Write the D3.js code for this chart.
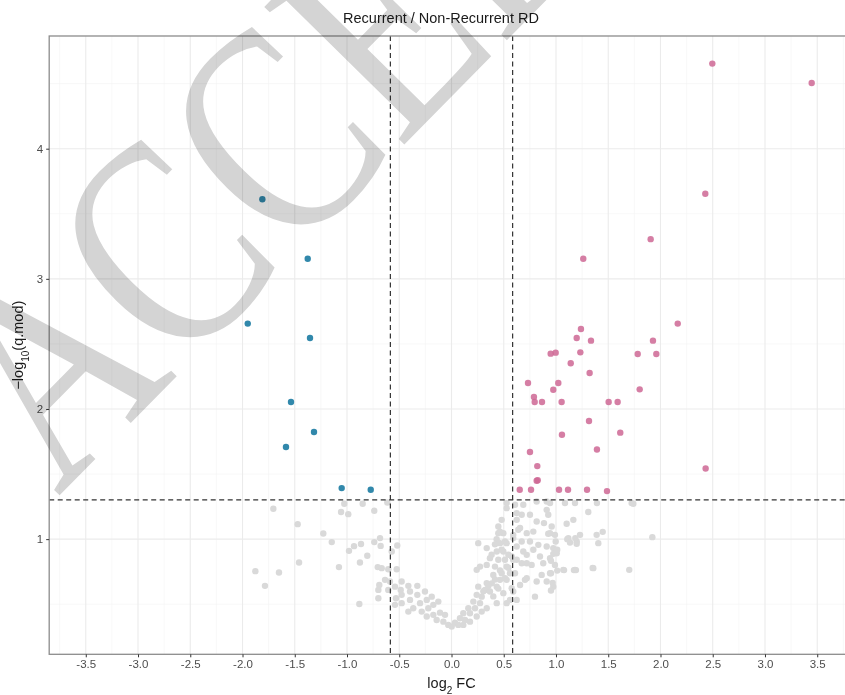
<!DOCTYPE html>
<html>
<head>
<meta charset="utf-8">
<script src="https://cdn.jsdelivr.net/npm/d3@7"></script>
<style>
  body { margin: 0; background: #fff; }
  svg text { font-family: "Liberation Sans", Arial, Helvetica, sans-serif; }
</style>
</head>
<body>
<svg id="chart" width="845" height="695"></svg>
<script>
// ---- data (log2 FC, -log10 q) ----
const title = "Recurrent / Non-Recurrent RD";
const xTicks = [-3.5, -3, -2.5, -2, -1.5, -1, -0.5, 0, 0.5, 1, 1.5, 2, 2.5, 3, 3.5];
const yTicks = [1, 2, 3, 4];
const fcCut = 0.585;   // log2(1.5)
const qCut = 1.301;    // -log10(0.05)

// down-regulated (significant)
const downFC = [-1.810, -1.376, -1.950, -1.354, -1.536, -1.316, -1.584, -1.051, -0.773];
const downQ  = [3.612, 3.154, 2.656, 2.545, 2.054, 1.823, 1.708, 1.392, 1.379];

// up-regulated (significant)
const upFC = [1.261, 2.165, 1.239, 1.198, 1.335, 1.928, 0.949, 0.997, 1.233, 1.782, 1.960, 1.141, 1.322, 0.732,
  1.022, 0.974, 1.801, 0.789, 0.796, 0.866, 1.054, 1.504, 1.590, 1.316, 1.057, 1.615, 0.751, 1.392, 0.821, 2.432,
  0.815, 0.825, 0.653, 0.761, 1.029, 1.115, 1.297, 1.488, 2.496, 3.447, 2.429, 1.906];
const upQ = [3.154, 2.656, 2.615, 2.546, 2.525, 2.525, 2.425, 2.433, 2.435, 2.423, 2.423, 2.351, 2.277, 2.200,
  2.200, 2.148, 2.151, 2.092, 2.054, 2.054, 2.054, 2.054, 2.054, 1.908, 1.802, 1.818, 1.669, 1.689, 1.561, 1.543,
  1.448, 1.452, 1.379, 1.379, 1.379, 1.379, 1.379, 1.369, 4.654, 4.505, 3.654, 3.305];

// not significant
const nsFC = [-1.705, -1.472, -1.459, -1.877, -1.651, -1.785,
  -1.026, -0.850, -0.614, -1.057, -0.988, -0.739, -1.146, -1.227, -0.981, -0.933, -0.866, -0.739, -0.684, -0.678,
  -0.519, -0.572, -0.806, -0.876, -1.077, -0.706, -0.668, -0.605, -0.524, -0.636, -0.589, -0.691, -0.700, -0.605,
  -0.700, -0.882, -0.541, -0.477, -0.486, -0.413, -0.397, -0.327, -0.531, -0.477, -0.541, -0.477, -0.397, -0.327,
  -0.254, -0.366, -0.413, -0.301, -0.237, -0.189, -0.285, -0.222, -0.174, -0.126, -0.237, -0.174, -0.110, -0.142,
  -0.078, -0.031, 0.002, -0.062, 0.033, 0.081, 0.065, 0.129, 0.113, 0.177, 0.161, 0.225, 0.209, 0.273, 0.241,
  0.289, 0.321, 0.256, 0.337, 0.241, 0.273, 0.337, 0.400, 0.368, 0.433, 0.464, 0.416, 0.448, 0.433, 0.496, 0.464,
  0.512, 0.448, 0.496, 0.448, 0.480, 0.528, 0.256, 0.337, 0.368, 0.528, 0.560, 0.528, 0.496, 0.576, 0.576, 0.624,
  0.624, 0.591, 0.639, 0.624, 0.672, 0.687, 0.608, 0.528, 0.672, 0.687, 0.720, 0.703, 0.560, 0.433, 0.337, 0.289,
  0.241, 0.177, 0.113,
  0.815, 0.911, 1.086, 1.182, 0.911, 0.926, 0.751, 0.624, 0.815, 0.885, 0.959, 1.102, 1.166, 1.230, 1.118, 1.198,
  1.389, 1.405, 0.656, 0.720, 0.783, 0.926, 0.990, 0.591, 0.751, 0.831, 0.911, 0.974, 1.007, 0.783, 0.720, 0.847,
  0.943, 0.591, 0.672, 0.767, 0.878, 0.990, 1.070, 1.182, 1.357, 0.943, 0.863, 0.608, 0.720, 0.815, 0.911, 0.974,
  0.656, 0.591, 0.799, 0.624, 0.528, 0.480, 0.512, 0.480, 0.528, 0.464,
  0.943, 1.392, 1.724, 1.740, 1.309, 0.943, 1.447, 1.922, 1.108, 1.185, 1.134, 1.198, 0.997, 1.012, 0.974, 0.952,
  1.012, 1.077, 1.172, 1.191, 1.351, 1.701, 0.952, 0.968, 0.952,
  0.385, 0.416, 0.464, 0.512, 0.544, 0.305, 0.352, 0.400, 0.448, 0.544, 0.384, 0.432, 0.416];
const nsQ = [1.233, 1.115, 0.820, 0.754, 0.743, 0.641,
  1.272, 1.272, 1.282, 1.208, 1.192, 1.218, 0.977, 1.043, 0.910, 0.946, 0.962, 0.977, 1.008, 0.948,
  0.951, 0.905, 0.872, 0.820, 0.785, 0.785, 0.777, 0.769, 0.769, 0.687, 0.674, 0.648, 0.610, 0.610,
  0.546, 0.502, 0.635, 0.674, 0.610, 0.641, 0.597, 0.641, 0.546, 0.572, 0.495, 0.508, 0.533, 0.572,
  0.597, 0.469, 0.443, 0.508, 0.533, 0.558, 0.443, 0.469, 0.495, 0.520, 0.405, 0.418, 0.435, 0.379,
  0.366, 0.341, 0.328, 0.418, 0.358, 0.392, 0.341, 0.379, 0.431, 0.431, 0.469, 0.469, 0.520, 0.508, 0.572,
  0.558, 0.610, 0.635, 0.662, 0.764, 0.789, 0.802, 0.725, 0.597, 0.635, 0.687, 0.789, 0.841, 0.905, 0.905, 0.969,
  0.982, 1.046, 1.046, 1.097, 1.148, 1.238, 0.969, 0.931, 0.854, 0.789, 0.738, 0.687, 0.585, 0.623, 0.866, 0.841,
  0.943, 1.033, 1.072, 1.148, 1.187, 1.264, 1.264, 1.277, 0.982, 0.905, 0.815, 0.687, 0.533, 0.508, 0.469, 0.443,
  0.405, 0.366, 0.341,
  1.289, 1.289, 1.277, 1.277, 1.225, 1.187, 1.187, 1.200, 1.135, 1.123, 1.097, 1.118, 1.148, 1.033, 1.008, 0.982,
  1.033, 0.969, 1.085, 1.046, 1.058, 1.041, 1.033, 1.008, 0.982, 0.956, 0.943, 0.931, 0.892, 0.918, 0.879, 0.866,
  0.854, 0.841, 0.815, 0.802, 0.815, 0.802, 0.764, 0.764, 0.777, 0.738, 0.725, 0.738, 0.700, 0.674, 0.674, 0.635,
  0.648, 0.597, 0.558, 0.533, 0.508, 0.738, 0.841, 0.918, 0.969, 1.058,
  1.277, 1.277, 1.277, 1.272, 1.208, 1.046, 1.056, 1.015, 1.000, 1.008, 0.974, 0.964, 0.982, 0.918, 0.887, 0.833,
  0.758, 0.762, 0.762, 0.762, 0.779, 0.764, 0.738, 0.664, 0.605,
  0.660, 0.690, 0.760, 0.700, 0.880, 0.600, 0.640, 0.560, 0.620, 0.780, 0.880, 1.000, 0.960];

const groups = [
  { name: "ns", fc: nsFC, q: nsQ, color: "#d9d9d9", opacity: 1 },
  { name: "down", fc: downFC, q: downQ, color: "#0d739c", opacity: 0.85 },
  { name: "up", fc: upFC, q: upQ, color: "#ce6794", opacity: 0.85 }
];

// ---- layout ----
const svg = d3.select("#chart");
const panel = { left: 49.2, right: 853.8, top: 36, bottom: 654.3 };

const x = d3.scaleLinear().domain([-3.85, 3.85]).range([panel.left, panel.right]);
const y = d3.scaleLinear().domain([0.115, 4.866]).range([panel.bottom, panel.top]);

// grid
const grid = svg.append("g");
const xMinor = xTicks.slice(0, -1).map(d => d + 0.25).concat([-3.75, 3.75]);
const yMinor = [0.5, 1.5, 2.5, 3.5, 4.5];

grid.selectAll(".xminor").data(xMinor).enter().append("line")
  .attr("x1", d => x(d)).attr("x2", d => x(d))
  .attr("y1", panel.top).attr("y2", panel.bottom)
  .attr("stroke", "#f3f3f3").attr("stroke-width", 0.6);
grid.selectAll(".yminor").data(yMinor).enter().append("line")
  .attr("x1", panel.left).attr("x2", panel.right)
  .attr("y1", d => y(d)).attr("y2", d => y(d))
  .attr("stroke", "#f3f3f3").attr("stroke-width", 0.6);
grid.selectAll(".xmajor").data(xTicks).enter().append("line")
  .attr("x1", d => x(d)).attr("x2", d => x(d))
  .attr("y1", panel.top).attr("y2", panel.bottom)
  .attr("stroke", "#ebebeb").attr("stroke-width", 1.1);
grid.selectAll(".ymajor").data(yTicks).enter().append("line")
  .attr("x1", panel.left).attr("x2", panel.right)
  .attr("y1", d => y(d)).attr("y2", d => y(d))
  .attr("stroke", "#ebebeb").attr("stroke-width", 1.1);

// points
groups.forEach(g => {
  const pts = g.fc.map((d, i) => ({ fc: d, q: g.q[i] }));
  svg.append("g").selectAll("circle").data(pts).enter().append("circle")
    .attr("cx", d => x(d.fc))
    .attr("cy", d => y(d.q))
    .attr("r", 3.2)
    .attr("fill", g.color)
    .attr("fill-opacity", g.opacity);
});

// threshold lines
const dash = "5,3.5";
svg.append("g").selectAll("line").data([-fcCut, fcCut]).enter().append("line")
  .attr("x1", d => x(d)).attr("x2", d => x(d))
  .attr("y1", panel.top).attr("y2", panel.bottom)
  .attr("stroke", "#333").attr("stroke-width", 1.2).attr("stroke-dasharray", dash);
svg.append("line")
  .attr("x1", panel.left).attr("x2", panel.right)
  .attr("y1", y(qCut)).attr("y2", y(qCut))
  .attr("stroke", "#333").attr("stroke-width", 1.2).attr("stroke-dasharray", dash);

// panel border
svg.append("rect")
  .attr("x", panel.left).attr("y", panel.top)
  .attr("width", panel.right - panel.left).attr("height", panel.bottom - panel.top)
  .attr("fill", "none").attr("stroke", "#8c8c8c").attr("stroke-width", 1.3);

// axes
const xAxis = svg.append("g")
  .attr("transform", `translate(0,${panel.bottom})`)
  .call(d3.axisBottom(x).tickValues(xTicks).tickSize(3).tickPadding(3).tickFormat(d => d.toFixed(1)));
const yAxis = svg.append("g")
  .attr("transform", `translate(${panel.left},0)`)
  .call(d3.axisLeft(y).tickValues(yTicks).tickSize(3).tickPadding(3).tickFormat(d => d));
[xAxis, yAxis].forEach(a => {
  a.select(".domain").remove();
  a.selectAll(".tick line").attr("stroke", "#333").attr("stroke-width", 1);
  a.selectAll(".tick text").attr("fill", "#4d4d4d").style("font-size", "11.5px")
    .style("font-family", '"Liberation Sans", Arial, sans-serif');
});

// title and axis labels
svg.append("text")
  .attr("x", 441).attr("y", 23)
  .attr("text-anchor", "middle")
  .style("font-size", "14.5px").attr("fill", "#1a1a1a")
  .text(title);

const xl = svg.append("text")
  .attr("x", x(0)).attr("y", 688)
  .attr("text-anchor", "middle")
  .style("font-size", "14.5px").attr("fill", "#1a1a1a");
xl.append("tspan").text("log");
xl.append("tspan").attr("baseline-shift", "sub").style("font-size", "10px").text("2");
xl.append("tspan").text(" FC");

const yl = svg.append("text")
  .attr("transform", `translate(23,${(panel.top + panel.bottom) / 2}) rotate(-90)`)
  .attr("text-anchor", "middle")
  .style("font-size", "14.5px").attr("fill", "#1a1a1a");
yl.append("tspan").text("\u2212log");
yl.append("tspan").attr("baseline-shift", "sub").style("font-size", "10px").text("10");
yl.append("tspan").text("(q.mod)");

// watermark
svg.append("text")
  .attr("transform", "translate(58,497) rotate(-45.5) scale(0.79,1)")
  .style("font-family", '"Liberation Serif", "Times New Roman", serif')
  .style("font-size", "300px")
  .style("mix-blend-mode", "multiply")
  .attr("fill", "#d4d4d4")
  .text("ACCEPTED");
</script>
</body>
</html>
